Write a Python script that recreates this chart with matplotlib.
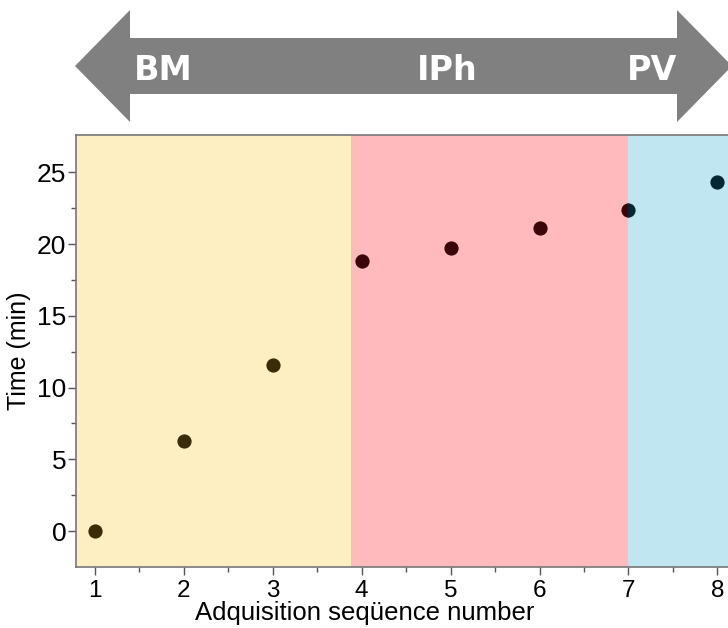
import matplotlib.pyplot as plt
from matplotlib.patches import Polygon

seq = [1, 2, 3, 4, 5, 6, 7, 8]
time_min = [0.0, 6.25, 11.6, 18.8, 19.7, 21.15, 22.35, 24.35]

phase_edges = [0.786, 3.88, 7.0, 8.12]
phase_colors = ["#fdefc2", "#ffbabe", "#c0e6f2"]
marker_colors = ["#3a2c06", "#3a0609", "#062835"]
phase_names = ["BM", "IPh", "PV"]

plt.rcParams["font.family"] = ["Liberation Sans", "DejaVu Sans"]

fig = plt.figure(figsize=(7.28, 6.28), dpi=100)
ax = fig.add_axes([0.1044, 0.0971, 0.8956, 0.6879])

# each phase band tints the dots lying on it (dot 7 sits on the border)
for i, c in enumerate(phase_colors):
    band = ax.axvspan(phase_edges[i], phase_edges[i + 1], color=c, lw=0, zorder=0)
    dots = ax.scatter(seq, time_min, s=105, color=marker_colors[i], lw=0, zorder=3)
    dots.set_clip_path(band)

ax.set_xticks(seq)
ax.set_xticks([x + 0.5 for x in seq[:-1]], minor=True)
ax.set_yticks([0, 5, 10, 15, 20, 25])
ax.set_yticks([2.5, 7.5, 12.5, 17.5, 22.5], minor=True)
ax.set_xlim(phase_edges[0], phase_edges[-1])
ax.set_ylim(-2.5, 27.6)
ax.tick_params(which="major", direction="out", length=6, width=1, color="#555555")
ax.tick_params(axis="x", which="major", labelsize=17.5, pad=3)
ax.tick_params(axis="y", which="major", labelsize=19, pad=1)
ax.tick_params(which="minor", direction="out", length=3.5, width=1, color="#555555")
ax.set_xlabel("Adquisition seqüence number", fontsize=18.5)
ax.xaxis.set_label_coords(0.443, -0.079)
ax.set_ylabel("Time (min)", fontsize=18, labelpad=4)
for side in ["left", "bottom", "top"]:
    ax.spines[side].set_color("#777777")
    ax.spines[side].set_linewidth(1.2)
ax.spines["right"].set_visible(False)

# double arrow banner on top, drawn in pixel coordinates
ov = fig.add_axes([0, 0, 1, 1], facecolor="none")
ov.set_xlim(0, 728)
ov.set_ylim(628, 0)
ov.axis("off")
arrow = [(75, 66), (130, 10), (130, 38), (677, 38), (677, 10), (732, 66),
         (677, 122), (677, 94), (130, 94), (130, 122)]
ov.add_patch(Polygon(arrow, closed=True, color="#808080", lw=0))
for name, xc in zip(phase_names, [163, 447, 652]):
    ov.text(xc, 70, name, color="white", fontsize=24, fontweight="bold",
            family="DejaVu Sans", ha="center", va="center")

fig.savefig("out.png", dpi=100)
